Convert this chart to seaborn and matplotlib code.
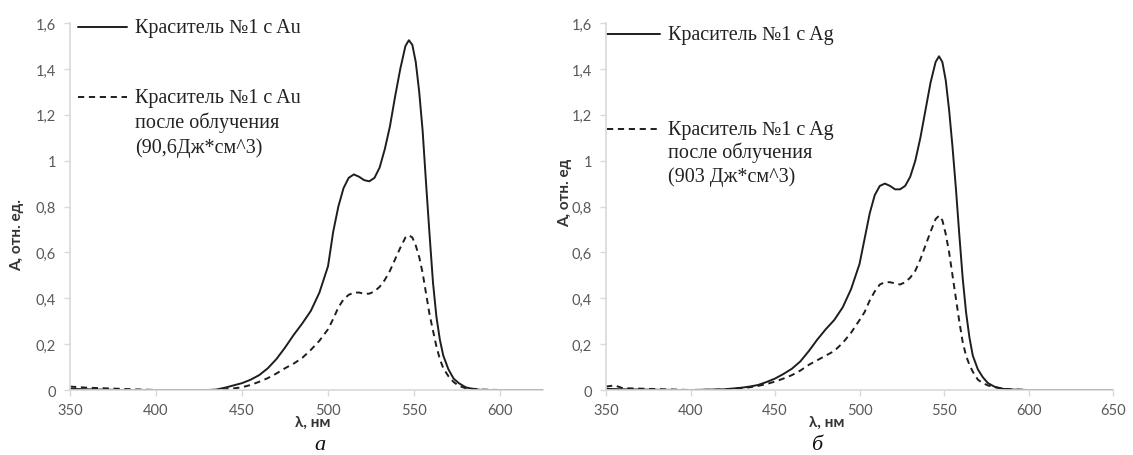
import matplotlib
matplotlib.use("Agg")
import matplotlib.pyplot as plt
import matplotlib.ticker as mticker
import numpy as np
import pandas as pd
import seaborn as sns

# длины волн, нм
wl_au = [350, 360, 380, 400, 420, 430, 435, 440, 445, 450, 455, 460, 465, 470, 475,
         480, 485, 490, 495, 500, 503, 506, 509, 512, 515, 518, 521, 524, 527, 530,
         533, 536, 539, 542, 545, 547, 549, 551, 553, 555, 557, 559, 561, 563, 565,
         567, 570, 573, 576, 580, 585, 590, 600, 610, 625]
au_before = [0.005, 0.003, 0.0, 0.0, 0.0, 0.0, 0.002, 0.01, 0.02, 0.03, 0.045, 0.065, 0.095,
             0.135, 0.185, 0.24, 0.29, 0.345, 0.425, 0.54, 0.69, 0.80, 0.88, 0.925, 0.94,
             0.93, 0.915, 0.91, 0.925, 0.97, 1.05, 1.15, 1.28, 1.40, 1.50, 1.525, 1.505,
             1.43, 1.30, 1.13, 0.90, 0.68, 0.47, 0.32, 0.22, 0.15, 0.09, 0.05, 0.03, 0.012,
             0.003, 0.0, 0.0, 0.0, 0.0]
au_after = [0.015, 0.01, 0.005, 0.0, 0.0, 0.0, 0.0, 0.003, 0.007, 0.012, 0.022, 0.036, 0.052,
            0.072, 0.095, 0.115, 0.14, 0.175, 0.215, 0.265, 0.31, 0.36, 0.395, 0.415, 0.425,
            0.425, 0.42, 0.42, 0.43, 0.45, 0.48, 0.52, 0.57, 0.62, 0.665, 0.675, 0.665,
            0.63, 0.58, 0.51, 0.42, 0.33, 0.26, 0.19, 0.135, 0.095, 0.06, 0.035, 0.018,
            0.008, 0.005, 0.002, 0.0, 0.0, 0.0]

wl_ag = [350, 355, 360, 380, 400, 420, 430, 435, 440, 445, 450, 455, 460, 465, 470, 475,
         480, 485, 490, 495, 500, 503, 506, 509, 512, 515, 518, 521, 524, 527, 530,
         533, 536, 539, 542, 545, 547, 549, 551, 553, 555, 557, 559, 561, 563, 565,
         567, 570, 573, 576, 580, 585, 590, 600, 610, 625, 650]
ag_before = [0.005, 0.004, 0.003, 0.001, 0.0, 0.003, 0.01, 0.015, 0.022, 0.035, 0.05, 0.07,
             0.093, 0.125, 0.17, 0.22, 0.265, 0.305, 0.36, 0.44, 0.55, 0.66, 0.77, 0.85,
             0.89, 0.90, 0.89, 0.875, 0.875, 0.89, 0.93, 1.00, 1.10, 1.22, 1.34, 1.43,
             1.455, 1.43, 1.35, 1.22, 1.06, 0.88, 0.68, 0.49, 0.34, 0.23, 0.15, 0.09,
             0.055, 0.03, 0.014, 0.005, 0.002, 0.0, 0.0, 0.0, 0.0]
ag_after = [0.015, 0.02, 0.008, 0.004, 0.0, 0.002, 0.008, 0.012, 0.018, 0.026, 0.037, 0.05,
            0.065, 0.085, 0.11, 0.13, 0.15, 0.17, 0.205, 0.25, 0.305, 0.34, 0.39, 0.43,
            0.46, 0.47, 0.47, 0.465, 0.46, 0.47, 0.49, 0.52, 0.57, 0.63, 0.69, 0.745,
            0.76, 0.74, 0.68, 0.60, 0.50, 0.40, 0.30, 0.21, 0.15, 0.11, 0.08, 0.045,
            0.03, 0.02, 0.012, 0.006, 0.003, 0.0, 0.0, 0.0, 0.0]

y_ticks = [0, 0.2, 0.4, 0.6, 0.8, 1.0, 1.2, 1.4, 1.6]

labels_au = ["Краситель №1 с Au",
             ["Краситель №1 с Au", "после облучения", "(90,6Дж*см^3)"]]
labels_ag = ["Краситель №1 с Ag",
             ["Краситель №1 с Ag", "после облучения", "(903 Дж*см^3)"]]

sns.set_style("white")
plt.rcParams["font.family"] = ["Lato", "DejaVu Sans"]

GRAY = "#d9d9d9"
TICK = "#595959"
LINE = "#1e1e1e"
SERIF = ["Liberation Serif", "DejaVu Serif"]


def comma(v, pos):
    s = f"{v:.1f}".rstrip("0").rstrip(".")
    return s.replace(".", ",")


def panel(ax, wl, before, after, xmax, xticks):
    df = pd.DataFrame({
        "wl": list(wl) * 2,
        "A": list(before) + list(after),
        "kind": ["before"] * len(wl) + ["after"] * len(wl),
    })
    sns.lineplot(data=df, x="wl", y="A", style="kind",
                 dashes={"before": "", "after": (3.2, 2.4)},
                 color=LINE, linewidth=1.4, legend=False, ax=ax)
    ax.set_xlim(350, xmax)
    ax.set_ylim(0, 1.6)
    ax.set_xticks(xticks)
    ax.set_yticks(y_ticks)
    ax.yaxis.set_major_formatter(mticker.FuncFormatter(comma))
    for side in ("top", "right"):
        ax.spines[side].set_visible(False)
    for side in ("left", "bottom"):
        ax.spines[side].set_color(GRAY)
        ax.spines[side].set_linewidth(1.2)
    ax.tick_params(axis="both", direction="out", length=4, width=1,
                   color=GRAY, labelcolor=TICK, labelsize=10.5, left=True, bottom=True)
    ax.tick_params(axis="x", pad=5)
    ax.tick_params(axis="y", pad=6)


def key(ax, x0, x1, y, dashed):
    ls = (0, (3.2, 2.4)) if dashed else "-"
    ax.plot([x0, x1], [y, y], transform=ax.transAxes, clip_on=False,
            color=LINE, linewidth=1.4, linestyle=ls)


def lines_text(ax, x, ys, lines):
    for y, t in zip(ys, lines):
        ax.text(x, y, t, transform=ax.transAxes, ha="left", va="center",
                family=SERIF, fontsize=14.5, color="#222222")


fig = plt.figure(figsize=(11.33, 4.56), dpi=100)
ax1 = fig.add_axes([0.0618, 0.1425, 0.4175, 0.8048])
ax2 = fig.add_axes([0.5349, 0.1425, 0.4475, 0.8048])

panel(ax1, wl_au, au_before, au_after, 625, [350, 400, 450, 500, 550, 600])
panel(ax2, wl_ag, ag_before, ag_after, 650, [350, 400, 450, 500, 550, 600, 650])

# легенда, панель а
key(ax1, 0.017, 0.12, 0.989, False)
lines_text(ax1, 0.137, [0.989], [labels_au[0]])
key(ax1, 0.017, 0.12, 0.798, True)
lines_text(ax1, 0.137, [0.798, 0.730, 0.662], labels_au[1])

# легенда, панель б
key(ax2, 0.002, 0.106, 0.970, False)
lines_text(ax2, 0.122, [0.970], [labels_ag[0]])
key(ax2, 0.002, 0.106, 0.711, True)
lines_text(ax2, 0.122, [0.711, 0.649, 0.583], labels_ag[1])

for ax, ylab, ycoords, xc in ((ax1, "А, отн. ед.", (-0.097, 0.425), (313 - 70) / 473),
                              (ax2, "А, отн. ед", (-0.066, 0.54), (827 - 606) / 507)):
    ax.set_xlabel("λ, нм", fontsize=11, fontweight="bold", color="#333333")
    ax.xaxis.set_label_coords(xc, -0.068)
    ax.set_ylabel(ylab, fontsize=11, fontweight="bold", color="#333333")
    ax.yaxis.set_label_coords(*ycoords)

fig.text(320 / 1133, 1 - 446 / 456, "а", family=SERIF, style="italic",
         fontsize=16, ha="center", va="center", color="#111111")
fig.text(817 / 1133, 1 - 446 / 456, "б", family=SERIF, style="italic",
         fontsize=16, ha="center", va="center", color="#111111")

fig.savefig("out.png", dpi=100)
